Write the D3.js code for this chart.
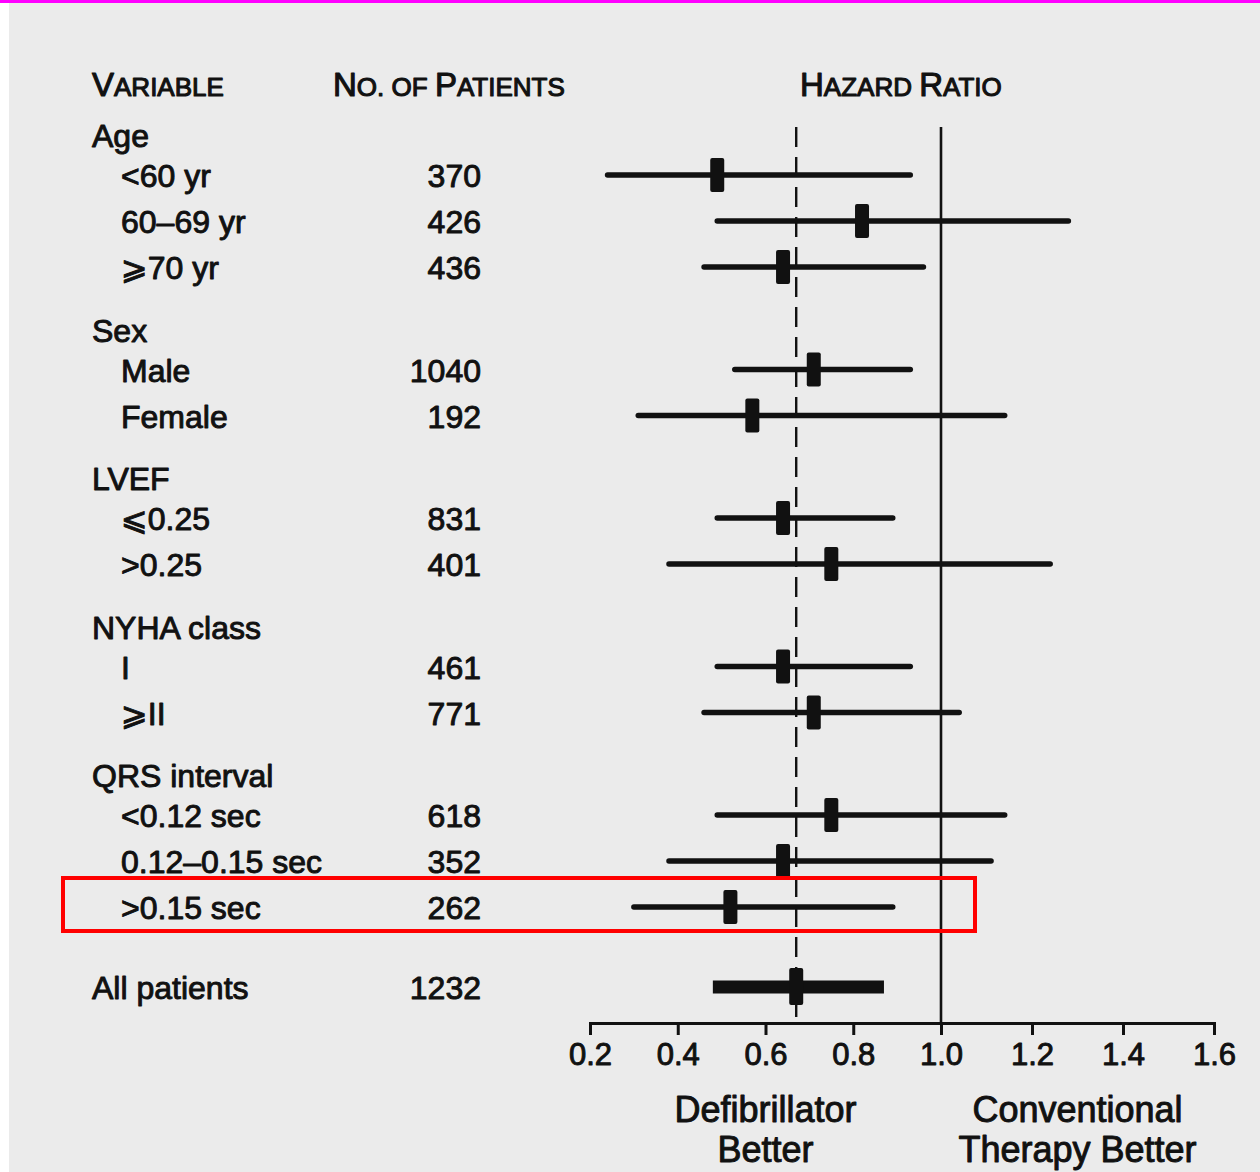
<!DOCTYPE html>
<html>
<head>
<meta charset="utf-8">
<script src="https://cdn.jsdelivr.net/npm/d3@7"></script>
<style>
  html, body { margin: 0; padding: 0; background: #ffffff; }
  svg { display: block; }
  text { font-family: "Liberation Sans", Arial, Helvetica, "DejaVu Sans", sans-serif; fill: #111111; stroke: #111111; stroke-width: 0.95px; stroke-linejoin: round; white-space: pre; }
</style>
</head>
<body>
<svg id="chart" width="1260" height="1172"></svg>
<script>
// Subgroup analysis: hazard ratio of death, defibrillator vs conventional therapy
const categories = ["Age", "<60 yr", "60–69 yr", "⩾70 yr",
  "Sex", "Male", "Female",
  "LVEF", "⩽0.25", ">0.25",
  "NYHA class", "I", "⩾II",
  "QRS interval", "<0.12 sec", "0.12–0.15 sec", ">0.15 sec",
  "All patients"];
const rowKinds = ["group", "sub", "sub", "sub",
  "group", "sub", "sub",
  "group", "sub", "sub",
  "group", "sub", "sub",
  "group", "sub", "sub", "sub",
  "total"];
const patients    = [null, 370, 426, 436, null, 1040, 192, null, 831, 401, null, 461, 771, null, 618, 352, 262, 1232];
const hazardRatio = [null, 0.49, 0.82, 0.64, null, 0.71, 0.57, null, 0.64, 0.75, null, 0.64, 0.71, null, 0.75, 0.64, 0.52, 0.67];
const ciLower     = [null, 0.24, 0.49, 0.46, null, 0.53, 0.31, null, 0.49, 0.38, null, 0.49, 0.46, null, 0.49, 0.38, 0.30, 0.48];
const ciUpper     = [null, 0.93, 1.28, 0.96, null, 0.93, 1.14, null, 0.89, 1.24, null, 0.93, 1.04, null, 1.14, 1.11, 0.89, 0.87];
const tickValues  = [0.2, 0.4, 0.6, 0.8, 1.0, 1.2, 1.4, 1.6];
const tickLabels  = ["0.2", "0.4", "0.6", "0.8", "1.0", "1.2", "1.4", "1.6"];
const columnHeads = ["Variable", "No. of Patients", "Hazard Ratio"];
const favourLeft  = ["Defibrillator", "Better"];
const favourRight = ["Conventional", "Therapy Better"];
const highlighted = ">0.15 sec";

const svg = d3.select("#chart");
const W = 1260, H = 1172;
const ink = "#111111";

// paper
svg.append("rect").attr("width", W).attr("height", H).attr("fill", "#ffffff");
svg.append("rect").attr("x", 9).attr("y", 0).attr("width", W - 9).attr("height", H).attr("fill", "#ebebeb");
svg.append("rect").attr("x", 0).attr("y", 0).attr("width", W).attr("height", 3).attr("fill", "#ff00ff");

// hazard-ratio scale (printed axis is slightly wider right of 1.0)
const x = d3.scaleLinear().domain([0.2, 1.0, 1.6]).range([590, 941, 1214]);

// vertical row layout
const rowY = [];
{
  let y = 135;
  rowKinds.forEach((k, i) => {
    if (i > 0) {
      const prev = rowKinds[i - 1];
      if (k === "total") y += 80;
      else if (k === "group") y += 62.5;
      else if (prev === "group") y += 40;
      else y += 46;
    }
    rowY.push(y);
  });
}
const axisY = 1023, plotTop = 127;
const fs = 32;

// column headings in small capitals
function smallCaps(sel, str, big, small) {
  str.split(" ").forEach((w, wi) => {
    if (wi > 0) sel.append("tspan").attr("font-size", small).text(" ");
    const first = w[0];
    if (first === first.toUpperCase() && /[A-Za-z]/.test(first)) {
      sel.append("tspan").attr("font-size", big).text(first);
      if (w.length > 1) sel.append("tspan").attr("font-size", small).text(w.slice(1).toUpperCase());
    } else {
      sel.append("tspan").attr("font-size", small).text(w.toUpperCase());
    }
  });
}
const headX = [92, 333, 800];
columnHeads.forEach((h, i) => {
  const t = svg.append("text").attr("x", headX[i]).attr("y", 96).style("stroke-width", "1.1px");
  smallCaps(t, h, 33, 26);
});

// row labels and patient counts
const rows = categories.map((c, i) => ({
  label: c, kind: rowKinds[i], n: patients[i], hr: hazardRatio[i],
  lo: ciLower[i], hi: ciUpper[i], y: rowY[i]
}));

svg.append("g").selectAll("text").data(rows).join("text")
  .attr("x", d => d.kind === "sub" ? 121 : 92)
  .attr("y", d => d.y + 12)
  .attr("font-size", fs)
  .text(d => d.label);

svg.append("g").selectAll("text").data(rows.filter(d => d.n != null)).join("text")
  .attr("x", 481)
  .attr("y", d => d.y + 12)
  .attr("font-size", fs)
  .attr("text-anchor", "end")
  .text(d => d.n);

// reference lines: no effect (1.0) and overall estimate
const overall = rows.find(d => d.kind === "total");
svg.append("line")
  .attr("x1", x(1.0)).attr("x2", x(1.0))
  .attr("y1", plotTop).attr("y2", axisY)
  .attr("stroke", ink).attr("stroke-width", 2.6);
svg.append("line")
  .attr("x1", x(overall.hr)).attr("x2", x(overall.hr))
  .attr("y1", plotTop).attr("y2", axisY)
  .attr("stroke", ink).attr("stroke-width", 2.4)
  .attr("stroke-dasharray", "20,10");

// confidence intervals and point estimates
const est = rows.filter(d => d.hr != null);
svg.append("g").selectAll("line").data(est).join("line")
  .attr("x1", d => x(d.lo)).attr("x2", d => x(d.hi))
  .attr("y1", d => d.y).attr("y2", d => d.y)
  .attr("stroke", ink)
  .attr("stroke-width", d => d.kind === "total" ? 13 : 5.5)
  .attr("stroke-linecap", d => d.kind === "total" ? "butt" : "round");

svg.append("g").selectAll("rect").data(est).join("rect")
  .attr("x", d => x(d.hr) - 7)
  .attr("y", d => d.y - (d.kind === "total" ? 19 : 17))
  .attr("width", 14)
  .attr("height", d => d.kind === "total" ? 37 : 34)
  .attr("rx", 2)
  .attr("fill", ink);

// axis
const axis = d3.axisBottom(x)
  .tickValues(tickValues)
  .tickFormat((d, i) => tickLabels[i])
  .tickSize(12)
  .tickSizeOuter(12)
  .tickPadding(8);
const ag = svg.append("g").attr("transform", `translate(0,${axisY})`).call(axis);
ag.select(".domain").attr("stroke", ink).attr("stroke-width", 3);
ag.selectAll(".tick line").attr("stroke", ink).attr("stroke-width", 3);
ag.selectAll(".tick text")
  .attr("font-size", 31)
  .attr("font-family", "Liberation Sans, Arial, sans-serif")
  .attr("fill", ink);

// favour labels
[[favourLeft, 0.6], [favourRight, 1.3]].forEach(([lines, v]) => {
  lines.forEach((s, j) => {
    svg.append("text")
      .attr("x", x(v)).attr("y", 1122 + j * 40)
      .attr("font-size", 36)
      .attr("text-anchor", "middle")
      .text(s);
  });
});

// highlight frame around one subgroup row
const hl = rows.find(d => d.label === highlighted);
svg.append("rect")
  .attr("x", 63).attr("y", hl.y - 29)
  .attr("width", 912).attr("height", 53)
  .attr("fill", "none")
  .attr("stroke", "#ff0000")
  .attr("stroke-width", 4);
</script>
</body>
</html>
